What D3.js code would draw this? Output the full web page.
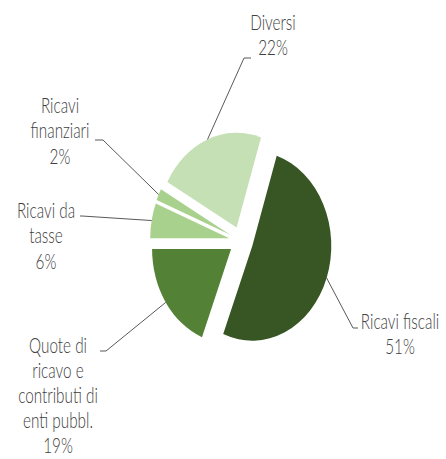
<!DOCTYPE html>
<html>
<head>
<meta charset="utf-8">
<script src="https://cdn.jsdelivr.net/npm/d3@7/dist/d3.min.js"></script>
<style>
  html, body { margin: 0; padding: 0; background: #ffffff; }
  svg { display: block; }
  text { font-family: Lato, "Open Sans", "DejaVu Sans", sans-serif; fill: #404040; font-size: 18px; font-weight: 300; }
</style>
</head>
<body>
<svg id="chart" width="446" height="459"></svg>
<script>
// ---- data ----
const categories = ["Ricavi fiscali", "Quote di ricavo e contributi di enti pubbl.", "Ricavi da tasse", "Ricavi finanziari", "Diversi"];
const values = [51, 19, 6, 2, 22];
const nameLines = [["Ricavi fiscali"], ["Quote di", "ricavo e", "contributi di", "enti pubbl."], ["Ricavi da", "tasse"], ["Ricavi", "finanziari"], ["Diversi"]];
const colors = ["#375623", "#538135", "#a9d18e", "#a9d18e", "#c5e0b4"];

// ---- layout (not data) ----
const W = 446, H = 459;
const cx = 241, cy = 241;
const rx = 79, ky = 1.2;          // pie is drawn stretched vertically
const explode = 12;
const startDeg = 18;
const lineGap = 25.5;
const sx = 0.85, sy = 1.2;
// label center x, first baseline y, leader elbow and end
const labelLayout = [
  { x: 400, y: 329, elbow: [353, 328], end: [358, 328], gap: 25.5 },
  { x: 58,  y: 353, elbow: [106, 351], end: [100, 351], gap: 25 },
  { x: 46,  y: 218, elbow: [82, 216],  end: [80, 216], gap: 25.5 },
  { x: 60,  y: 113, elbow: [103, 140], end: [95, 140], gap: 25.5 },
  { x: 273, y: 30,  elbow: [244, 58],  end: [251, 58], gap: 25.5 }
];

const svg = d3.select("#chart");
const a0 = startDeg * Math.PI / 180;
const pie = d3.pie().sort(null).value(d => d).startAngle(a0).endAngle(a0 + 2 * Math.PI);
const arcs = pie(values);
const arcGen = d3.arc().innerRadius(0).outerRadius(rx);

const pieG = svg.append("g").attr("transform", `translate(${cx},${cy}) scale(1,${ky})`);
pieG.selectAll("path").data(arcs).enter().append("path")
  .attr("d", arcGen)
  .attr("fill", (d, i) => colors[i])
  .attr("transform", d => {
    const m = (d.startAngle + d.endAngle) / 2;
    return `translate(${explode * Math.sin(m)},${-explode * Math.cos(m)})`;
  });

// leader lines
arcs.forEach((d, i) => {
  const m = (d.startAngle + d.endAngle) / 2;
  const px = cx + (explode + rx) * Math.sin(m);
  const py = cy - (explode + rx) * Math.cos(m) * ky;
  const L = labelLayout[i];
  svg.append("polyline")
    .attr("points", `${px},${py} ${L.elbow[0]},${L.elbow[1]} ${L.end[0]},${L.end[1]}`)
    .attr("fill", "none")
    .attr("stroke", "#595959")
    .attr("stroke-width", 1);
});

// labels
arcs.forEach((d, i) => {
  const L = labelLayout[i];
  const lines = nameLines[i].concat([values[i] + "%"]);
  const t = svg.append("text")
    .attr("text-anchor", "middle")
    .attr("transform", `translate(${L.x},${L.y}) scale(${sx},${sy})`);
  lines.forEach((s, j) => {
    t.append("tspan").attr("x", 0).attr("dy", j === 0 ? 0 : L.gap / sy).text(s);
  });
});
</script>
</body>
</html>
